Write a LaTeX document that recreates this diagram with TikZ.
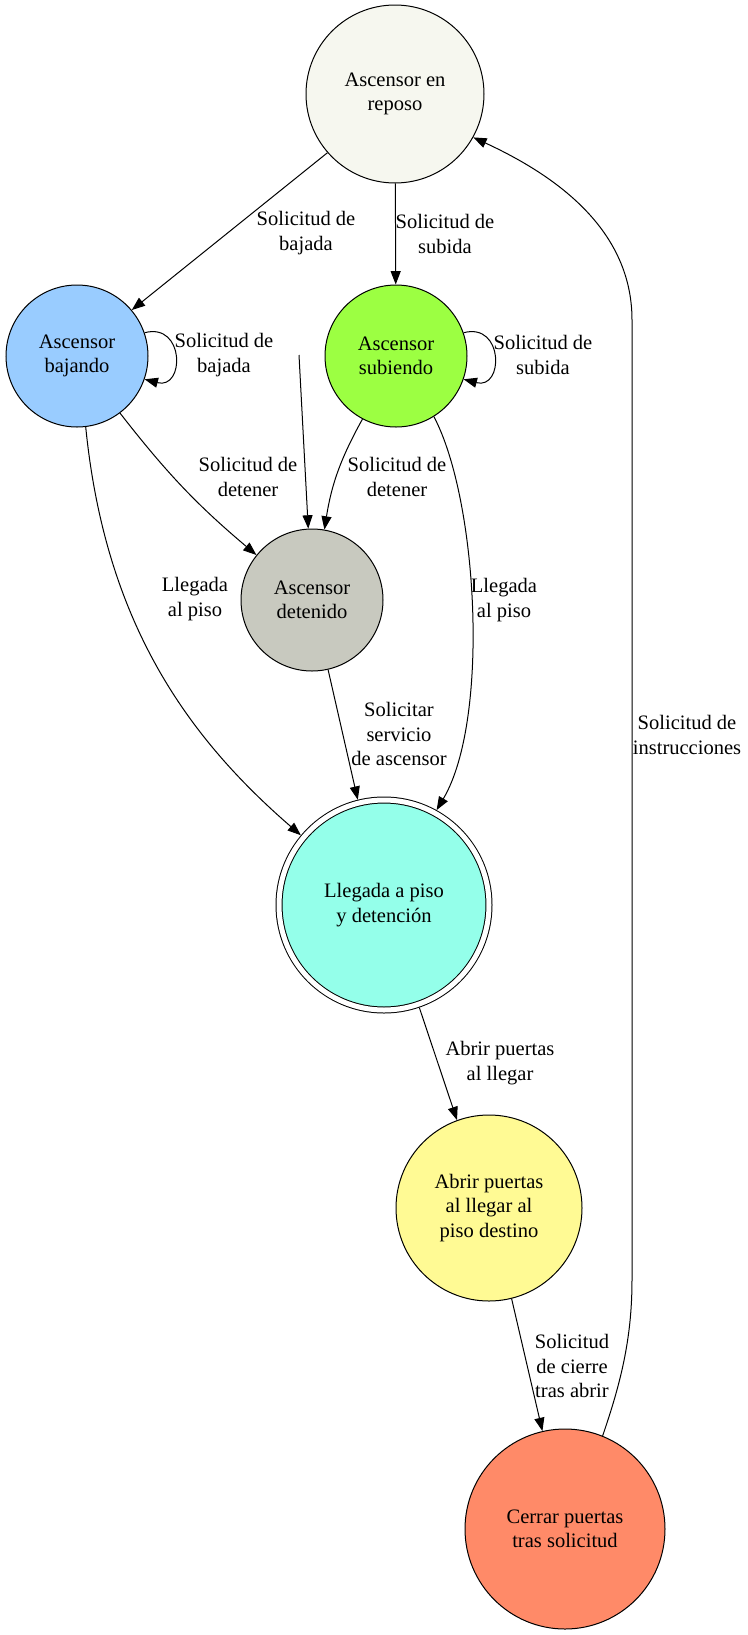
\documentclass[tikz,border=0pt]{standalone}
\usepackage{fontspec}
\setmainfont{Liberation Serif}
\usetikzlibrary{arrows.meta, positioning}

\definecolor{reposofill}{HTML}{F6F7EF}
\definecolor{bajandofill}{HTML}{99CCFF}
\definecolor{subiendofill}{HTML}{9CFF42}
\definecolor{detenidofill}{HTML}{C8C9BF}
\definecolor{llegadafill}{HTML}{94FFEA}
\definecolor{abrirfill}{HTML}{FFFA94}
\definecolor{cerrarfill}{HTML}{FF8A68}

\begin{document}
\begin{tikzpicture}[
    x=0.75pt, y=-0.75pt,
    state/.style={circle, draw, line width=0.75pt, inner sep=0pt, align=center,
                  font=\fontsize{15.4}{18.4}\selectfont},
    lbl/.style={align=center, inner sep=0pt, font=\fontsize{15.4}{18.4}\selectfont},
    arrow/.style={-{Triangle[length=10pt, width=7.5pt]}, line width=0.75pt},
]
\useasboundingbox (0,0) rectangle (747,1635);

\node[state, fill=reposofill, minimum size=133.5pt] (reposo) at (395,94) {Ascensor en\\reposo};
\node[state, fill=bajandofill, minimum size=106.5pt] (bajando) at (77,356) {Ascensor\\bajando};
\node[state, fill=subiendofill, minimum size=106.5pt] (subiendo) at (396,356) {Ascensor\\subiendo};
\node[state, fill=detenidofill, minimum size=106.5pt] (detenido) at (312,600) {Ascensor\\detenido};
\node[state, fill=llegadafill, minimum size=157.5pt, double, double distance=3.75pt,
      outer sep=2.625pt] (llegada) at (384,905) {Llegada a piso\\y detención};
\node[state, fill=abrirfill, minimum size=139.5pt] (abrir) at (489,1208) {Abrir puertas\\al llegar al\\piso destino};
\node[state, fill=cerrarfill, minimum size=150pt] (cerrar) at (565,1529) {Cerrar puertas\\tras solicitud};

\coordinate (inicio) at (299,355);

\draw[arrow] (reposo.221) -- (bajando.40);
\draw[arrow] (reposo) -- (subiendo);
\draw[arrow] (bajando.19) .. controls (185,322) and (185,390) .. (bajando.-19);
\draw[arrow] (subiendo.19) .. controls (504,322) and (504,390) .. (subiendo.-19);
\draw[arrow] (inicio) -- (detenido.93);
\draw[arrow] (bajando.-53) to[bend right=6] (detenido.141);
\draw[arrow] (subiendo.242) to[bend right=10] (detenido.80);
\draw[arrow] (bajando.-83) .. controls (105,620) and (185,735) .. (llegada.140);
\draw[arrow] (subiendo.-58) .. controls (478,500) and (490,720) .. (llegada.61);
\draw[arrow] (detenido.-77) -- (llegada.104);
\draw[arrow] (llegada.-71) -- (abrir.110);
\draw[arrow] (abrir.-76) -- (cerrar.103);
\draw[arrow] (cerrar.68) .. controls (620,1385) and (632,1340) .. (632,1280)
    -- (632,320) .. controls (632,225) and (548,172) .. (reposo.-29);

% Edge labels
\node[lbl] (lbajada) at (306,233) {Solicitud de\\bajada};
\node[lbl] (lsubida) at (445,234) {Solicitud de\\subida};
\node[lbl] (lbajada2) at (224,355) {Solicitud de\\bajada};
\node[lbl] (lsubida2) at (543,355) {Solicitud de\\subida};
\node[lbl] (ldetener) at (248,477) {Solicitud de\\detener};
\node[lbl] (ldetener2) at (397,477) {Solicitud de\\detener};
\node[lbl] (lpiso) at (195,599) {Llegada\\al piso};
\node[lbl] (lpiso2) at (504,600) {Llegada\\al piso};
\node[lbl] (lservicio) at (399,734) {Solicitar\\servicio\\de ascensor};
\node[lbl] (lllegar) at (500,1063) {Abrir puertas\\al llegar};
\node[lbl] (lcierre) at (572,1366) {Solicitud\\de cierre\\tras abrir};
\node[lbl] (linstr) at (687,735) {Solicitud de\\instrucciones};
\end{tikzpicture}
\end{document}
